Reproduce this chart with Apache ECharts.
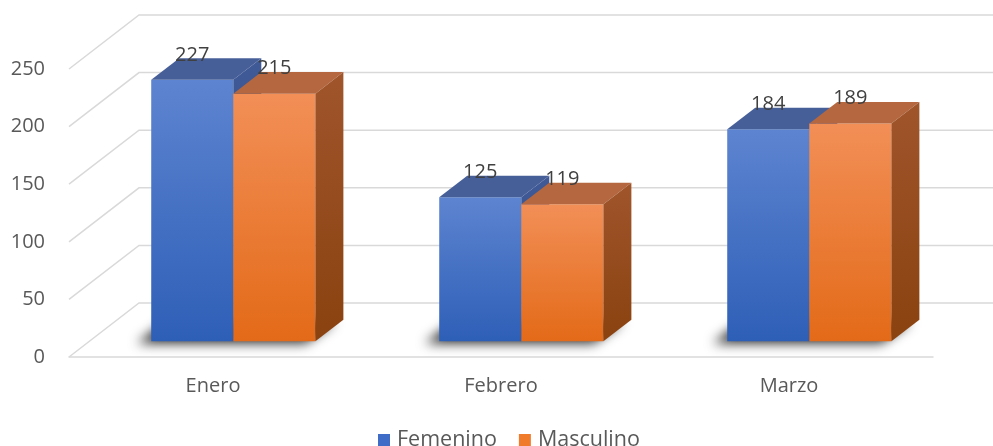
<!DOCTYPE html>
<html>
<head>
<meta charset="utf-8">
<script src="https://cdn.jsdelivr.net/npm/echarts@6/dist/echarts.min.js"></script>
<style>
  html, body { margin: 0; padding: 0; background: #fff; }
  #main { width: 993px; height: 446px; }
</style>
</head>
<body>
<div id="main"></div>
<script>
var meses = ['Enero', 'Febrero', 'Marzo'];
var femenino = [227, 125, 184];
var masculino = [215, 119, 189];
var yTicks = [0, 50, 100, 150, 200, 250];

// profundidad de la caja 3D (proyeccion oblicua)
var DEPTH_X = 70, DEPTH_Y = -54;
var F1 = 0.29, F2 = 0.69;   // frente y fondo de las barras
var BAR_W = 0.285;          // ancho de cada barra / ancho de categoria

var estilos = [
    { front: ['#5d84d0', '#2e5fb7'], top: '#475f99', side: ['#3f5a96', '#2f4a86'] },
    { front: ['#f28f57', '#e36a18'], top: '#b5673f', side: ['#a0552b', '#8a4210'] }
];

function grad(c) {
    return new echarts.graphic.LinearGradient(0, 0, 0, 1, [
        { offset: 0, color: c[0] }, { offset: 1, color: c[1] }
    ]);
}

function renderPared(params, api) {
    var cs = params.coordSys;
    var y = api.coord([0, api.value(1)])[1];
    var x0 = cs.x, x1 = cs.x + cs.width;
    var st = { stroke: '#d9d9d9', lineWidth: 1.5, fill: null };
    return {
        type: 'polyline',
        shape: { points: [[x0, y], [x0 + DEPTH_X, y + DEPTH_Y], [x1 + DEPTH_X, y + DEPTH_Y]] },
        style: st
    };
}

// sombra difusa bajo cada par de barras
function renderSombra(params, api) {
    var idx = api.value(0);
    var p = api.coord([idx, 0]);
    var w = api.size([1, 0])[0] * BAR_W;
    var l = p[0] - w, r = p[0] + w;
    var fx = DEPTH_X * F1, fy = DEPTH_Y * F1;
    var bx = DEPTH_X * F2, by = DEPTH_Y * F2;
    var off = 3000, sx = -14, sy = 2;
    var pts = [[l + fx, p[1] + fy], [r + fx + 4, p[1] + fy], [r + bx + 6, p[1] + by], [l + bx, p[1] + by]].map(function (q) {
        return [q[0] + off + sx, q[1] + sy];
    });
    return {
        type: 'polygon',
        shape: { points: pts },
        style: { fill: '#000', shadowBlur: 12, shadowColor: 'rgba(0,0,0,0.85)', shadowOffsetX: -off }
    };
}

function makeRender(k) {
    return function (params, api) {
        var idx = api.value(0), val = api.value(1);
        var base = api.coord([idx, 0]);
        var tope = api.coord([idx, val]);
        var w = api.size([1, 0])[0] * BAR_W;
        var fx = DEPTH_X * F1, fy = DEPTH_Y * F1;
        var dx = DEPTH_X * (F2 - F1), dy = DEPTH_Y * (F2 - F1);
        var l = base[0] + fx + (k === 0 ? -w : 0);
        var r = l + w;
        var yb = base[1] + fy, yt = tope[1] + fy;
        var e = estilos[k];
        return {
            type: 'group',
            children: [
                { type: 'rect', shape: { x: l, y: yt, width: w, height: yb - yt }, style: { fill: grad(e.front) } },
                { type: 'polygon', shape: { points: [[l, yt], [r, yt], [r + dx, yt + dy], [l + dx, yt + dy]] }, style: { fill: e.top } },
                { type: 'polygon', shape: { points: [[r, yt], [r + dx, yt + dy], [r + dx, yb + dy], [r, yb]] }, style: { fill: grad(e.side) } },
                { type: 'text', x: l + w / 2, y: yt - 25, style: { text: String(val), fill: '#404040', font: '20px "Open Sans"', align: 'center', verticalAlign: 'middle' } }
            ]
        };
    };
}

var chart = echarts.init(document.getElementById('main'));
chart.setOption({
    backgroundColor: '#fff',
    animation: false,
    grid: { left: 69, right: 60, top: 69, bottom: 89 },
    legend: {
        data: ['Femenino', 'Masculino'],
        left: 373, top: 424,
        icon: 'rect', itemWidth: 12, itemHeight: 12, itemGap: 22,
        textStyle: { fontFamily: 'Open Sans', fontSize: 21.5, color: '#595959', padding: [0, 0, 0, 2] }
    },
    xAxis: {
        type: 'category',
        data: meses,
        axisLine: { show: true, lineStyle: { color: '#d9d9d9', width: 1.5 } },
        axisTick: { show: false },
        axisLabel: { fontFamily: 'Open Sans', fontSize: 20, color: '#595959', margin: 19 }
    },
    yAxis: {
        type: 'value',
        min: 0, max: 250, interval: 50,
        axisLine: { show: false },
        axisTick: { show: false },
        splitLine: { show: false },
        axisLabel: { fontFamily: 'Open Sans', fontSize: 20, color: '#595959', margin: 24 }
    },
    series: [
        {
            name: 'pared', type: 'custom', silent: true, z: 1,
            data: yTicks.map(function (v) { return [0, v]; }),
            renderItem: renderPared
        },
        {
            name: 'sombra', type: 'custom', silent: true, z: 2,
            data: meses.map(function (m, i) { return [i, 0]; }),
            renderItem: renderSombra
        },
        {
            name: 'Femenino', type: 'custom', silent: true, z: 3,
            itemStyle: { color: '#3e6cc6' },
            data: femenino.map(function (v, i) { return [i, v]; }),
            renderItem: makeRender(0)
        },
        {
            name: 'Masculino', type: 'custom', silent: true, z: 4,
            itemStyle: { color: '#f07b2b' },
            data: masculino.map(function (v, i) { return [i, v]; }),
            renderItem: makeRender(1)
        }
    ]
});
</script>
</body>
</html>
